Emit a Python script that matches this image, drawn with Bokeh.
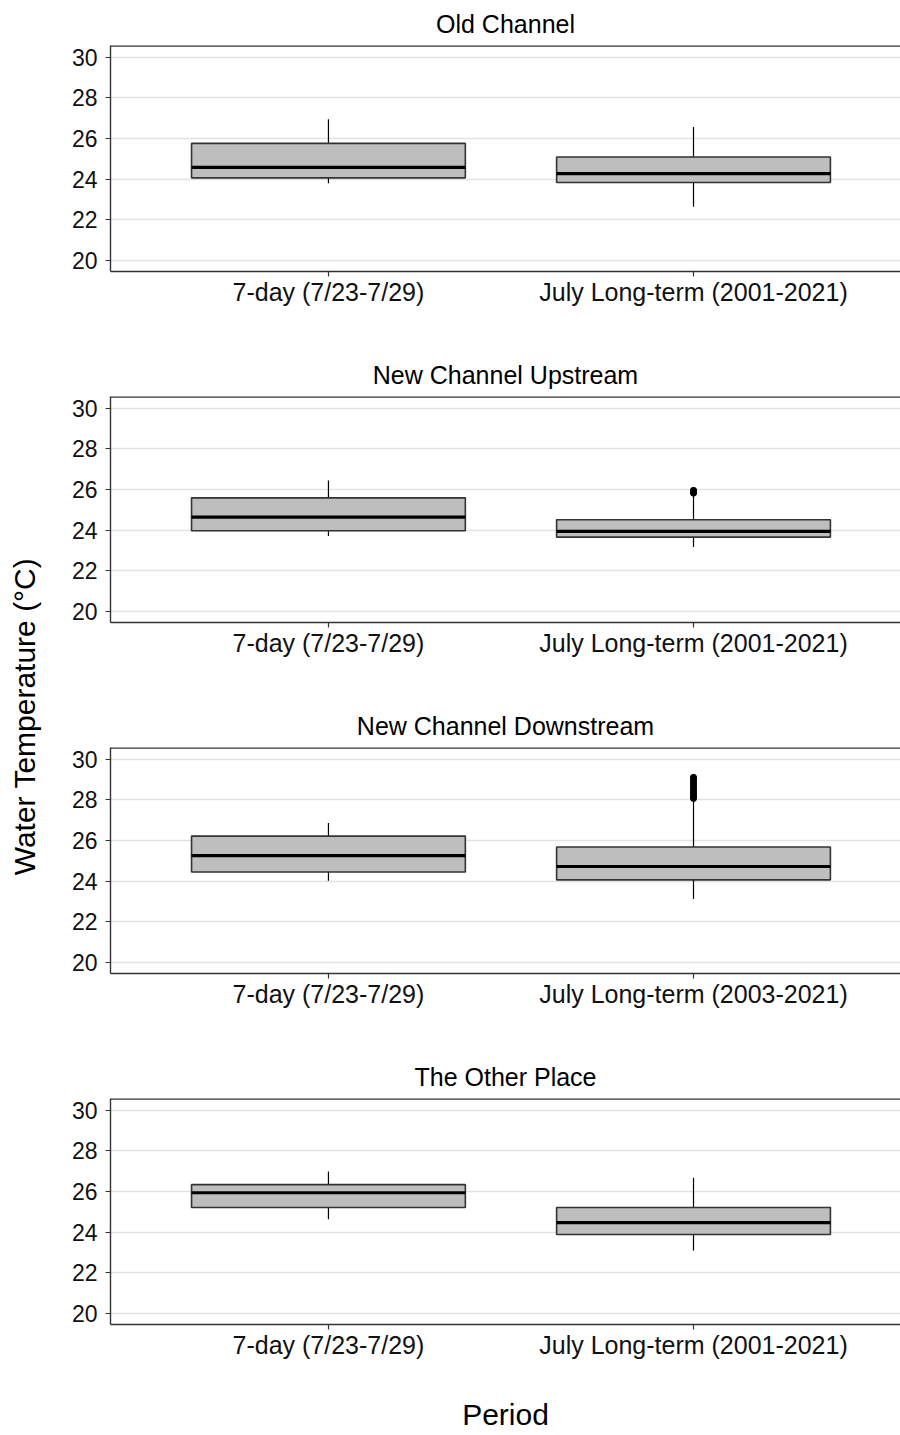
import math
from bokeh.plotting import figure
from bokeh.models import Range1d, FixedTicker, Span, LinearAxis
from bokeh.layouts import row, column
from bokeh.embed import file_html
from bokeh.resources import INLINE
from bokeh.core.properties import value

# ---------------- data ----------------
panel_titles = ["Old Channel", "New Channel Upstream", "New Channel Downstream", "The Other Place"]
period_labels = [
    ["7-day (7/23-7/29)", "July Long-term (2001-2021)"],
    ["7-day (7/23-7/29)", "July Long-term (2001-2021)"],
    ["7-day (7/23-7/29)", "July Long-term (2003-2021)"],
    ["7-day (7/23-7/29)", "July Long-term (2001-2021)"],
]
period_pos = [1, 2]
q1 = [[24.06, 23.83], [23.97, 23.65], [24.45, 24.06], [25.21, 23.88]]
median = [[24.58, 24.27], [24.64, 23.94], [25.26, 24.72], [25.94, 24.47]]
q3 = [[25.76, 25.09], [25.59, 24.51], [26.22, 25.68], [26.34, 25.21]]
whisker_low = [[23.80, 22.63], [23.71, 23.16], [24.02, 23.11], [24.63, 23.09]]
whisker_high = [[26.95, 26.57], [26.45, 25.75], [26.87, 27.98], [26.99, 26.68]]
outliers_long_term = [
    [],
    [25.82, 25.86, 25.90, 25.94, 25.96],
    [28.07, 28.15, 28.25, 28.35, 28.45, 28.55, 28.65, 28.75, 28.85, 28.95, 29.05, 29.12],
    [],
]
y_ticks = [20, 22, 24, 26, 28, 30]
x_title = "Period"
y_title = "Water Temperature (°C)"

# ---------------- styling ----------------
FONT = "Liberation Sans"
Y_START, Y_END = 19.44, 30.59
X_START, X_END = 0.403, 2.567
BOX_W = 0.75
BORDER = "#333333"
TOTAL_H = 1434
FRAME_TOP, FRAME_H = 44, 227
PANEL_H = 351
FRAME_LEFT, FIG_W = 62, 852

panels = []
for i in range(4):
    last = (i == 3)
    h = TOTAL_H - 3 * PANEL_H if last else PANEL_H
    p = figure(width=FIG_W, height=h,
               x_range=Range1d(X_START, X_END), y_range=Range1d(Y_START, Y_END),
               toolbar_location=None, output_backend="svg",
               min_border_left=FRAME_LEFT, min_border_right=0, min_border_top=FRAME_TOP,
               min_border_bottom=h - FRAME_TOP - FRAME_H,
               background_fill_color="white", border_fill_color="white",
               outline_line_color=None)
    p.title.text = panel_titles[i]
    p.title.align = "center"
    p.title.text_font = FONT
    p.title.text_font_size = "25px"
    p.title.text_font_style = "normal"
    p.title.text_color = "#000000"
    p.title.standoff = 15

    # axes
    p.xaxis.ticker = FixedTicker(ticks=period_pos)
    p.xaxis.major_label_overrides = {period_pos[k]: period_labels[i][k] for k in range(2)}
    p.yaxis.ticker = FixedTicker(ticks=y_ticks)
    for ax in (p.xaxis[0], p.yaxis[0]):
        ax.axis_line_color = BORDER
        ax.axis_line_width = 1.4
        ax.major_tick_line_color = BORDER
        ax.major_tick_line_width = 1.2
        ax.major_tick_out = 5
        ax.major_tick_in = 0
        ax.minor_tick_line_color = None
        ax.major_label_text_font = FONT
        ax.major_label_text_color = "#111111"
    p.xaxis.major_label_text_font_size = "25px"
    p.yaxis.major_label_text_font_size = "23px"
    p.xaxis.major_label_standoff = 1
    p.yaxis.major_label_standoff = 8

    p.xgrid.grid_line_color = None
    p.ygrid.ticker = FixedTicker(ticks=y_ticks)
    p.ygrid.grid_line_color = "#e2e2e2"
    p.ygrid.grid_line_width = 1.5

    top_border = Span(location=Y_END, dimension="width", line_color=BORDER, line_width=2.5)
    p.add_layout(top_border)

    # whiskers
    p.segment(x0=period_pos, x1=period_pos, y0=q3[i], y1=whisker_high[i],
              line_color="black", line_width=1.2)
    p.segment(x0=period_pos, x1=period_pos, y0=q1[i], y1=whisker_low[i],
              line_color="black", line_width=1.2)
    # boxes
    p.vbar(x=period_pos, width=BOX_W, bottom=q1[i], top=q3[i],
           fill_color="#bebebe", line_color=BORDER, line_width=1.6)
    # medians
    p.segment(x0=[x - BOX_W / 2 for x in period_pos], x1=[x + BOX_W / 2 for x in period_pos],
              y0=median[i], y1=median[i], line_color="black", line_width=3.2)
    # outliers
    if outliers_long_term[i]:
        p.scatter(x=[period_pos[1]] * len(outliers_long_term[i]), y=outliers_long_term[i],
                  size=6, fill_color="black", line_color="black")
    panels.append(p)

# x-axis title: an extra, otherwise invisible axis below the last panel
p4 = panels[-1]
title_axis = LinearAxis(ticker=FixedTicker(ticks=[]),
                        axis_line_color=None, major_tick_line_color=None,
                        minor_tick_line_color=None, major_label_text_font_size="0px",
                        major_tick_out=0, major_label_standoff=0,
                        axis_label=x_title, axis_label_standoff=36,
                        axis_label_text_align="right",
                        axis_label_text_font=FONT, axis_label_text_font_size="30px",
                        axis_label_text_font_style="normal", axis_label_text_color="black")
p4.add_layout(title_axis, "below")

# y-axis title
ylab = figure(width=48, height=TOTAL_H, x_range=Range1d(0, 48), y_range=Range1d(0, TOTAL_H),
              toolbar_location=None, output_backend="svg", min_border=0,
              outline_line_color=None)
ylab.axis.visible = False
ylab.grid.grid_line_color = None
ylab.text(x=[24], y=[TOTAL_H - 716], text=[y_title], angle=math.pi / 2,
          text_align="center", text_baseline="middle", text_font=value(FONT),
          text_font_size="30px", text_color="black")

layout = row(ylab, column(*panels))
open("out.html", "w").write(file_html(layout, INLINE))
